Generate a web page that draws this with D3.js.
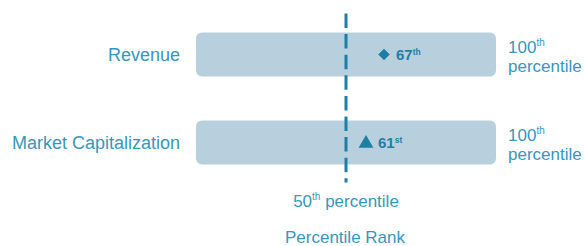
<!DOCTYPE html>
<html>
<head>
<meta charset="utf-8">
<script src="https://cdn.jsdelivr.net/npm/d3@7"></script>
<style>
html,body{margin:0;padding:0;background:#fff;}
svg{display:block;font-family:"Liberation Sans",Arial,sans-serif;}
</style>
</head>
<body>
<script>
const categories = ["Revenue", "Market Capitalization"];
const percentileValues = [67, 61];
const percentileSuffixes = ["th", "st"];
const markerShapes = ["diamond", "triangle"];
const medianValue = 50;
const domainExtent = [0, 100];
const endLabelMain = "100";
const endLabelSup = "th";
const endLabelLine2 = "percentile";
const medianLabelMain = "50";
const medianLabelSup = "th";
const medianLabelRest = " percentile";
const axisTitle = "Percentile Rank";

const W = 584, H = 246;
const labelColor = "#3896b8";
const darkColor = "#1d7fa5";
const barColor = "#b8cfdd";

const svg = d3.select("body").append("svg").attr("width", W).attr("height", H);

const x = d3.scaleLinear().domain(domainExtent).range([196, 496]);
const y = d3.scaleBand().domain(categories).range([10.5, 186.5]).paddingInner(0.5).paddingOuter(0.25);

const rows = categories.map((c, i) => ({cat: c, v: percentileValues[i], suf: percentileSuffixes[i], shape: markerShapes[i]}));

// bars
svg.selectAll("rect.bar").data(rows).join("rect")
  .attr("class", "bar")
  .attr("x", x(domainExtent[0]))
  .attr("width", x(domainExtent[1]) - x(domainExtent[0]))
  .attr("y", d => y(d.cat))
  .attr("height", y.bandwidth())
  .attr("rx", 6).attr("ry", 6)
  .attr("fill", barColor);

// category labels
svg.selectAll("text.cat").data(rows).join("text")
  .attr("class", "cat")
  .attr("x", x(domainExtent[0]) - 16)
  .attr("y", d => y(d.cat) + y.bandwidth() / 2)
  .attr("dy", "0.36em")
  .attr("text-anchor", "end")
  .attr("font-size", 18)
  .attr("fill", labelColor)
  .text(d => d.cat);

// median dashed line
svg.append("line")
  .attr("x1", x(medianValue)).attr("x2", x(medianValue))
  .attr("y1", y.range()[0] + 3).attr("y2", y.range()[1] - 4)
  .attr("stroke", darkColor)
  .attr("stroke-width", 3)
  .attr("stroke-dasharray", "14.5,6.1");

// markers
const sym = {diamond: d3.symbolDiamond2, triangle: d3.symbolTriangle};
const mk = svg.selectAll("g.mk").data(rows).join("g")
  .attr("class", "mk")
  .attr("transform", d => `translate(${x(d.v) - 13},${y(d.cat) + y.bandwidth() / 2})`);
mk.append("path")
  .attr("d", d => d3.symbol().type(sym[d.shape]).size(d.shape === "diamond" ? 85 : 95)())
  .attr("transform", d => d.shape === "triangle" ? "translate(0,1)" : null)
  .attr("fill", darkColor);
const mt = mk.append("text")
  .attr("x", 12)
  .attr("dy", "0.36em")
  .attr("font-size", 15)
  .attr("font-weight", "bold")
  .attr("fill", darkColor);
mt.append("tspan").text(d => d.v);
mt.append("tspan").attr("font-size", 8.5).attr("dy", "-0.6em").text(d => d.suf);

// end labels (100th percentile)
const el = svg.selectAll("text.end").data(rows).join("text")
  .attr("class", "end")
  .attr("x", x(domainExtent[1]) + 12)
  .attr("y", d => y(d.cat) + y.bandwidth() / 2 - 1.5)
  .attr("font-size", 17)
  .attr("fill", labelColor);
el.append("tspan").text(endLabelMain);
el.append("tspan").attr("font-size", 10).attr("dy", -7).text(endLabelSup);
el.append("tspan")
  .attr("x", x(domainExtent[1]) + 12)
  .attr("dy", 7 + 19)
  .text(endLabelLine2);

// median label
const ml = svg.append("text")
  .attr("x", x(medianValue))
  .attr("y", 206.5)
  .attr("text-anchor", "middle")
  .attr("font-size", 17)
  .attr("fill", labelColor);
ml.append("tspan").text(medianLabelMain);
ml.append("tspan").attr("font-size", 10).attr("dy", -7).text(medianLabelSup);
ml.append("tspan").attr("dy", 7).text(medianLabelRest);

// axis title
svg.append("text")
  .attr("x", x(medianValue) - 1)
  .attr("y", 243)
  .attr("text-anchor", "middle")
  .attr("font-size", 17)
  .attr("fill", labelColor)
  .text(axisTitle);
</script>
</body>
</html>
